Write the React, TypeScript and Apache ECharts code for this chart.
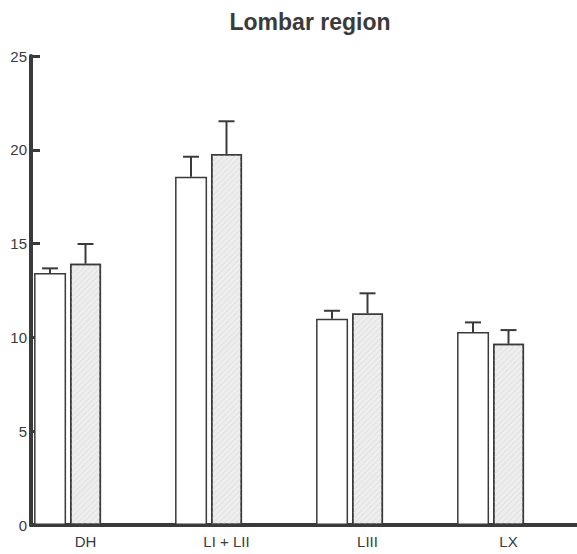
import React, { useEffect, useRef } from "react";
import * as echarts from "echarts";

const categories = ["DH", "LI + LII", "LIII", "LX"];
const whiteMeans = [13.43, 18.57, 11.0, 10.29];
const whiteUpper = [13.68, 19.63, 11.42, 10.8];
const grayMeans = [13.93, 19.78, 11.28, 9.66];
const grayUpper = [14.98, 21.52, 12.35, 10.39];
const yTicks = { min: 0, max: 25, interval: 5 };

const INK = "#3a3a3a";
const WHITE_W = 32;
const GRAY_W = 31;
const GAP = 4;
const SPACER_W = 64;

export default function App() {
  const ref = useRef<HTMLDivElement>(null);
  useEffect(() => {
    if (!ref.current) return;
    const chart = echarts.init(ref.current, null, { renderer: "svg" });
    const total = WHITE_W + GAP + GRAY_W + GAP + SPACER_W;
    const whiteOff = -total / 2 + WHITE_W / 2;
    const grayOff = -total / 2 + WHITE_W + GAP + GRAY_W / 2;
    const errData = (means: number[], upper: number[]) =>
      means.map((m, i) => [i, m, upper[i]]);
    const makeErr = (off: number) => (params: any, api: any) => {
      const i = api.value(0);
      const p0 = api.coord([i, api.value(1)]);
      const p1 = api.coord([i, api.value(2)]);
      const x = p0[0] + off;
      const style = { stroke: INK, lineWidth: 2 };
      return {
        type: "group",
        children: [
          { type: "line", shape: { x1: x, y1: p0[1], x2: x, y2: p1[1] }, style },
          { type: "line", shape: { x1: x - 8, y1: p1[1], x2: x + 8, y2: p1[1] }, style },
        ],
      };
    };
    chart.setOption({
      animation: false,
      title: {
        text: "Lombar region",
        left: 305,
        textAlign: "center",
        top: 5,
        textStyle: {
          fontFamily: "Liberation Sans, Arial, sans-serif",
          fontWeight: "bold",
          fontSize: 23,
          color: INK,
        },
      },
      grid: { left: 31, right: 0, top: 56, bottom: 29 },
      xAxis: {
        type: "category",
        data: categories,
        axisLine: { show: true, lineStyle: { color: INK, width: 4 } },
        axisTick: { show: false },
        axisLabel: {
          color: INK,
          fontFamily: "Liberation Sans, Arial, sans-serif",
          fontSize: 15,
          margin: 9,
          padding: [0, 32, 0, 0],
        },
        splitLine: { show: false },
      },
      yAxis: {
        type: "value",
        min: yTicks.min,
        max: yTicks.max,
        interval: yTicks.interval,
        axisLine: { show: true, lineStyle: { color: INK, width: 4 } },
        axisTick: { show: true, inside: true, length: 9, lineStyle: { color: INK, width: 3 } },
        axisLabel: {
          color: INK,
          fontFamily: "Liberation Sans, Arial, sans-serif",
          fontSize: 15,
          margin: 4,
        },
        splitLine: { show: false },
      },
      series: [
        {
          type: "bar",
          data: whiteMeans,
          barWidth: WHITE_W,
          barGap: ((GAP / WHITE_W) * 100).toFixed(2) + "%",
          itemStyle: { color: "#ffffff", borderColor: INK, borderWidth: 1.5 },
          z: 2,
        },
        {
          type: "bar",
          data: grayMeans,
          barWidth: GRAY_W,
          itemStyle: {
            color: "#eeeeee",
            borderColor: INK,
            borderWidth: 1.5,
            decal: {
              symbol: "rect",
              color: "#e0e0e0",
              dashArrayX: [1, 0],
              dashArrayY: [1, 3],
              rotation: -Math.PI / 4,
            },
          },
          z: 2,
        },
        {
          type: "bar",
          data: whiteMeans.map(() => 0),
          barWidth: SPACER_W,
          itemStyle: { color: "rgba(0,0,0,0)" },
          silent: true,
        },
        {
          type: "custom",
          renderItem: makeErr(whiteOff),
          data: errData(whiteMeans, whiteUpper),
          z: 3,
        },
        {
          type: "custom",
          renderItem: makeErr(grayOff),
          data: errData(grayMeans, grayUpper),
          z: 3,
        },
      ],
    });
    return () => chart.dispose();
  }, []);
  return (
    <div
      style={{ position: "fixed", left: 0, top: 0, width: 577, height: 554, overflow: "hidden", background: "#fff" }}
    >
      <div ref={ref} style={{ width: 595, height: 554 }} />
    </div>
  );
}
